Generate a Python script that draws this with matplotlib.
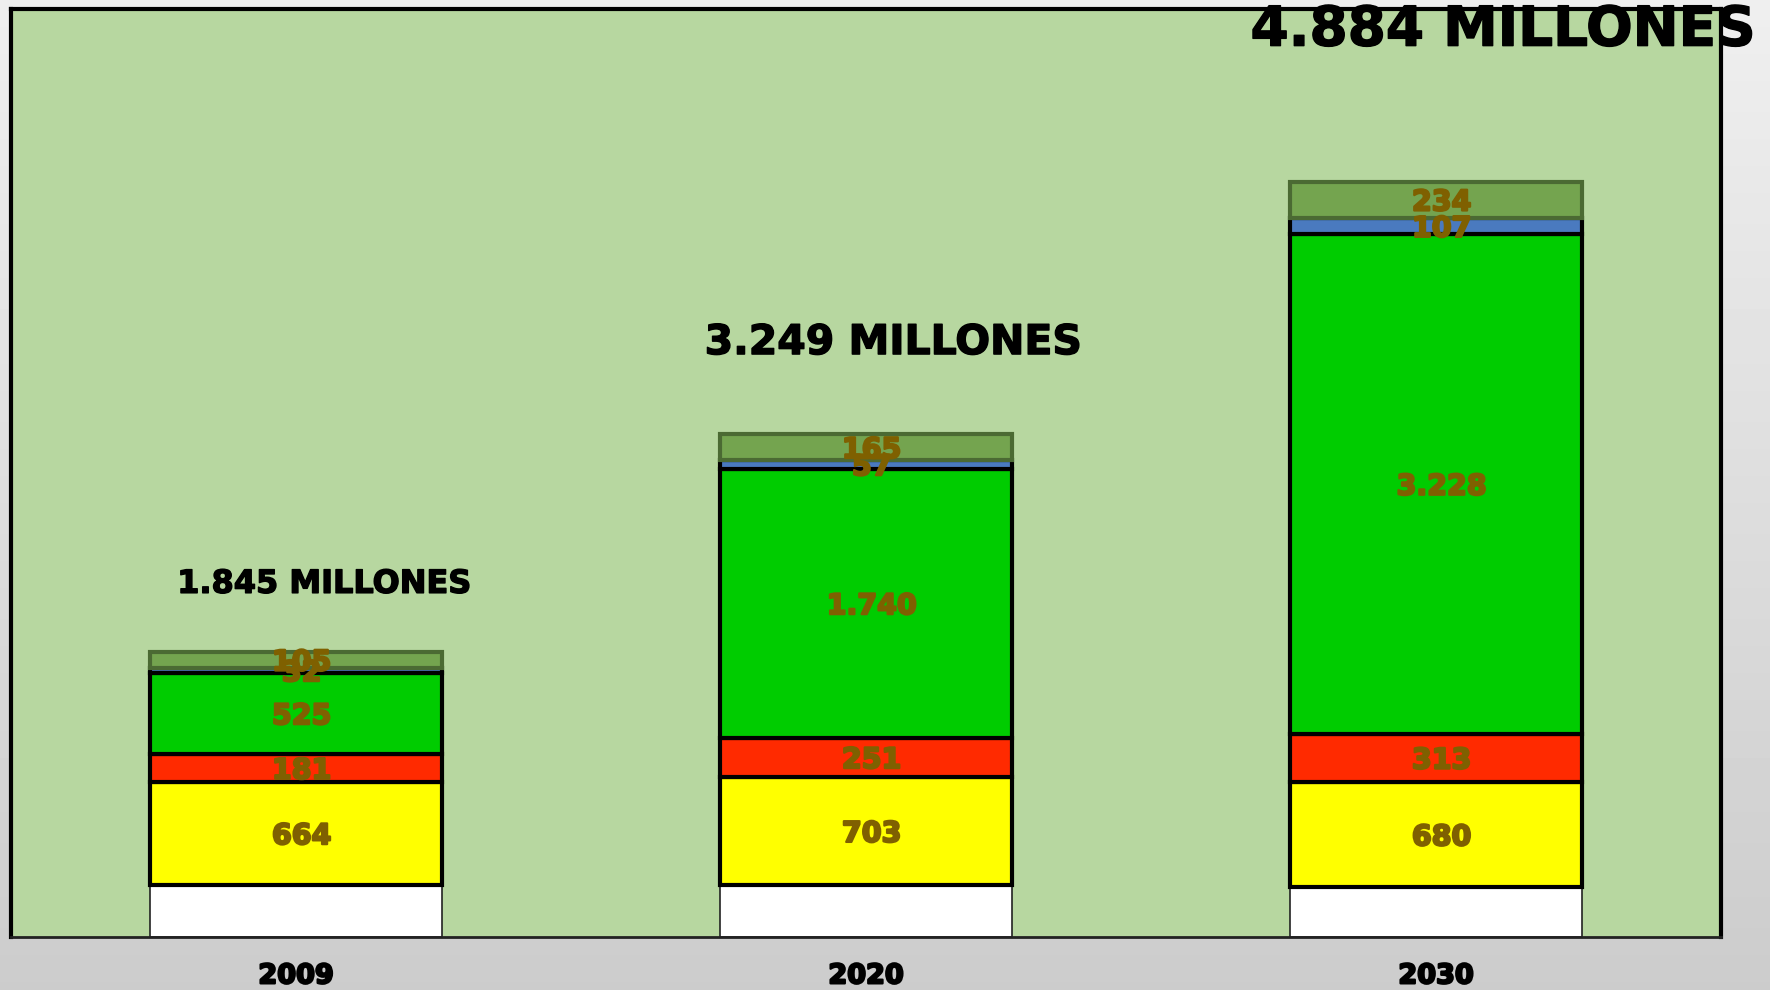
import numpy as np
import matplotlib
matplotlib.use("Agg")
import matplotlib.pyplot as plt
import matplotlib.patheffects as pe

years = ["2009", "2020", "2030"]
totals = ["1.845 MILLONES", "3.249 MILLONES", "4.884 MILLONES"]
base_white = [338, 333, 322]
yellow = [664, 703, 680]
red = [181, 251, 313]
green = [525, 1740, 3228]
blue = [32, 57, 107]
olive = [105, 165, 234]

segments = [
    (yellow, "#ffff00", "black", 3.0, ["664", "703", "680"]),
    (red, "#ff2a00", "black", 3.0, ["181", "251", "313"]),
    (green, "#00cc00", "black", 3.0, ["525", "1.740", "3.228"]),
    (blue, "#4a7abf", "black", 3.0, ["32", "57", "107"]),
    (olive, "#74a44f", "#4b6a33", 3.0, ["105", "165", "234"]),
]

lab_col = "#7f6000"

fig = plt.figure(figsize=(17.7, 9.9), dpi=100)

# grey gradient behind everything
bg = fig.add_axes([0, 0, 1, 1], zorder=-10)
grad = np.linspace(0.937, 0.80, 256).reshape(-1, 1)
bg.imshow(grad, aspect="auto", cmap="gray", vmin=0, vmax=1, extent=[0, 1, 0, 1])
bg.axis("off")

ax = fig.add_axes([11 / 1770, 53 / 990, 1710 / 1770, 928 / 990])
ax.set_facecolor("#b7d7a0")
x = np.arange(len(years))
w = 0.512

ax.bar(x, base_white, w, color="white", edgecolor="#222222", linewidth=1.2, zorder=2)
bottom = np.array(base_white, dtype=float)
for vals, col, ec, lw, labs in segments:
    ax.bar(x, vals, w, bottom=bottom, color=col, edgecolor=ec, linewidth=lw, zorder=3)
    for xi, b, v, lab in zip(x, bottom, vals, labs):
        ax.text(xi + 0.01, b + v / 2 - 18, lab, ha="center", va="center", fontsize=20.5,
                fontweight="bold", color=lab_col, zorder=5,
                path_effects=[pe.withStroke(linewidth=1.6, foreground=lab_col)])
    bottom += np.array(vals)

ax.set_xlim(-0.5, 2.5)
ax.set_ylim(0, 6000)
ax.set_yticks([])
ax.set_xticks(x, years)
ax.tick_params(axis="x", length=0, pad=19, labelsize=19.5)
for t in ax.get_xticklabels():
    t.set_fontweight("bold")
    t.set_path_effects([pe.withStroke(linewidth=1.6, foreground="black")])

for s in ["left", "top", "right"]:
    ax.spines[s].set_linewidth(3)
    ax.spines[s].set_color("black")
ax.spines["bottom"].set_linewidth(2)
ax.spines["bottom"].set_color("#222222")

txt_pos = [(0.05, 2280, 23), (1.048, 3840, 29.5), (2.118, 5860, 39.5)]
for (tx, ty, fs), s in zip(txt_pos, totals):
    ax.text(tx, ty, s, ha="center", va="center", fontsize=fs, fontweight="bold",
            color="black", clip_on=False, zorder=6,
            path_effects=[pe.withStroke(linewidth=1.0, foreground="black")])

fig.savefig("out.png", dpi=100)
